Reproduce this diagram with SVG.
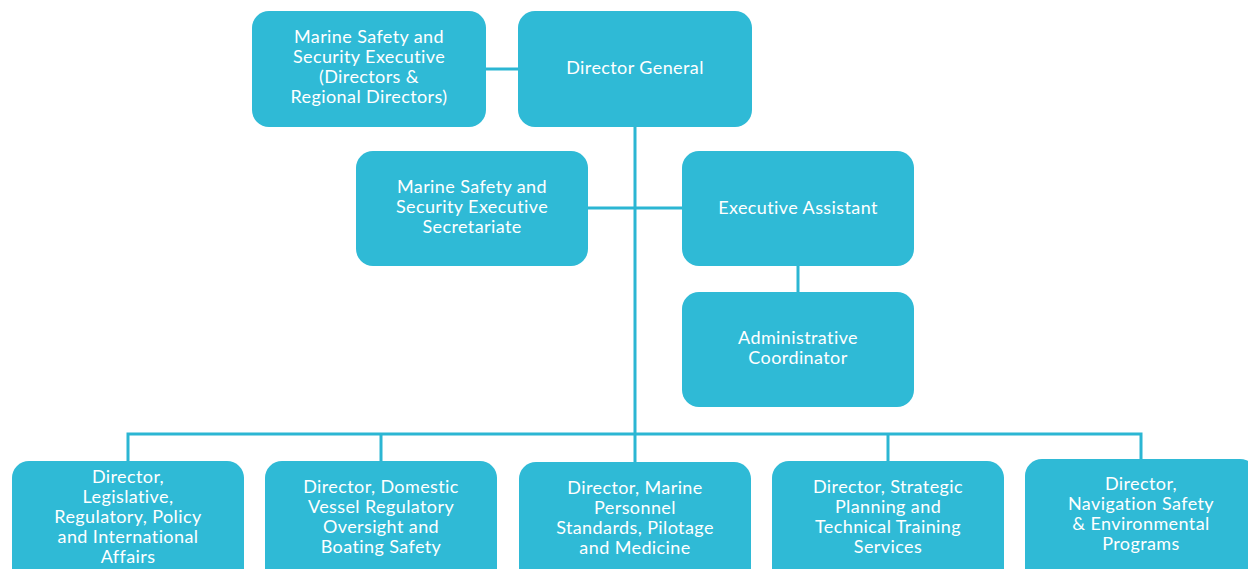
<svg xmlns="http://www.w3.org/2000/svg" width="1248" height="569" viewBox="0 0 1248 569">
<style>
.box{fill:#2fbad6}
.t{fill:#fff;font-family:Lato,"Open Sans","Liberation Sans",sans-serif;font-size:18px;letter-spacing:0.4px;font-variant-ligatures:none;text-anchor:middle}
.ln{stroke:#2bb6d3;stroke-width:3;fill:none}
</style>
<rect width="1248" height="569" fill="#fff"/>
<g id="connectors">
<line class="ln" x1="486" y1="69" x2="518" y2="69"/>
<line class="ln" x1="635" y1="127" x2="635" y2="434"/>
<line class="ln" x1="588" y1="208" x2="682" y2="208"/>
<line class="ln" x1="798" y1="266" x2="798" y2="292"/>
<polyline class="ln" points="128,461 128,434 1141,434 1141,459"/>
<line class="ln" x1="381" y1="434" x2="381" y2="461"/>
<line class="ln" x1="635" y1="434" x2="635" y2="462"/>
<line class="ln" x1="888" y1="434" x2="888" y2="461"/>
</g>
<g id="mss-executive">
<rect class="box" x="252" y="11" width="234" height="116" rx="17"/>
<text class="t"><tspan x="369" y="43">Marine Safety and</tspan><tspan x="369" y="63">Security Executive</tspan><tspan x="369" y="83">(Directors &amp;</tspan><tspan x="369" y="103">Regional Directors)</tspan></text>
</g>
<g id="director-general">
<rect class="box" x="518" y="11" width="234" height="116" rx="17"/>
<text class="t" x="635" y="74">Director General</text>
</g>
<g id="secretariat">
<rect class="box" x="356" y="151" width="232" height="115" rx="17"/>
<text class="t"><tspan x="472" y="193">Marine Safety and</tspan><tspan x="472" y="213">Security Executive</tspan><tspan x="472" y="233">Secretariate</tspan></text>
</g>
<g id="executive-assistant">
<rect class="box" x="682" y="151" width="232" height="115" rx="17"/>
<text class="t" x="798" y="214">Executive Assistant</text>
</g>
<g id="admin-coordinator">
<rect class="box" x="682" y="292" width="232" height="115" rx="17"/>
<text class="t"><tspan x="798" y="344">Administrative</tspan><tspan x="798" y="364">Coordinator</tspan></text>
</g>
<g id="dir-legislative">
<rect class="box" x="12" y="461" width="232" height="130" rx="17"/>
<text class="t"><tspan x="128" y="483">Director,</tspan><tspan x="128" y="503">Legislative,</tspan><tspan x="128" y="523">Regulatory, Policy</tspan><tspan x="128" y="543">and International</tspan><tspan x="128" y="563">Affairs</tspan></text>
</g>
<g id="dir-domestic-vessel">
<rect class="box" x="265" y="461" width="232" height="130" rx="17"/>
<text class="t"><tspan x="381" y="493">Director, Domestic</tspan><tspan x="381" y="513">Vessel Regulatory</tspan><tspan x="381" y="533">Oversight and</tspan><tspan x="381" y="553">Boating Safety</tspan></text>
</g>
<g id="dir-marine-personnel">
<rect class="box" x="519" y="462" width="232" height="130" rx="17"/>
<text class="t"><tspan x="635" y="494">Director, Marine</tspan><tspan x="635" y="514">Personnel</tspan><tspan x="635" y="534">Standards, Pilotage</tspan><tspan x="635" y="554">and Medicine</tspan></text>
</g>
<g id="dir-strategic-planning">
<rect class="box" x="772" y="461" width="232" height="130" rx="17"/>
<text class="t"><tspan x="888" y="493">Director, Strategic</tspan><tspan x="888" y="513">Planning and</tspan><tspan x="888" y="533">Technical Training</tspan><tspan x="888" y="553">Services</tspan></text>
</g>
<g id="dir-navigation-safety">
<rect class="box" x="1025" y="459" width="232" height="130" rx="17"/>
<text class="t"><tspan x="1141" y="490">Director,</tspan><tspan x="1141" y="510">Navigation Safety</tspan><tspan x="1141" y="530">&amp; Environmental</tspan><tspan x="1141" y="550">Programs</tspan></text>
</g>
</svg>
